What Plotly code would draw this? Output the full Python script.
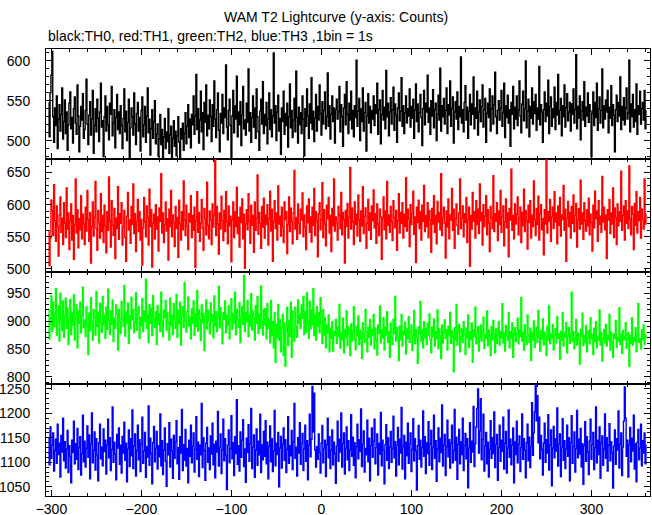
import plotly.graph_objects as go

# ---------------- data (1 s bins, time in seconds) ----------------
T_START = -303

TH0 = [548,505,560,582,612,530,498,541,519,556,490,527,545,512,533,566,502,524,551,509,
536,488,520,547,561,515,529,497,540,555,522,508,570,531,486,518,543,526,559,503,
514,538,577,521,495,532,549,507,527,563,484,519,540,511,552,528,499,536,572,517,
525,480,530,556,512,543,520,501,547,533,568,506,522,539,491,529,558,514,536,509,
544,519,490,528,565,511,537,500,523,552,478,516,541,530,507,560,521,495,534,548,
512,529,487,538,555,505,520,543,498,531,566,510,527,482,515,539,503,524,550,496,
508,521,480,502,533,495,514,476,505,528,490,511,499,540,484,507,518,479,503,525,
493,512,481,506,530,498,477,515,502,522,488,509,535,496,518,545,504,527,491,533,
520,556,508,531,583,514,540,497,526,562,511,535,489,548,523,570,506,532,515,551,
530,499,545,518,575,527,504,539,560,513,486,534,522,558,509,541,529,595,517,501,
538,552,519,478,531,563,510,544,527,581,505,536,520,549,494,532,568,515,526,507,
547,523,590,512,535,498,529,556,517,541,503,565,530,511,488,537,552,521,574,509,
533,519,548,496,527,560,514,539,505,531,610,522,544,500,536,557,512,528,483,541,
524,562,508,534,519,547,492,530,571,516,538,504,526,553,511,587,529,497,542,520,
535,509,556,527,481,540,518,565,531,503,546,522,579,514,537,499,528,558,512,543,
526,570,534,507,549,521,538,561,515,530,585,518,544,502,533,556,524,541,497,539,
552,527,536,568,511,545,530,493,541,558,520,574,533,509,547,526,562,515,538,505,
544,529,601,518,537,553,500,540,524,566,512,535,548,487,531,559,522,543,510,538,
527,556,519,545,534,572,508,539,551,496,533,563,526,542,515,588,530,547,506,536,
554,521,539,567,513,546,532,498,541,560,525,537,579,518,544,509,535,556,522,540,
531,565,517,543,528,552,503,538,571,524,546,511,535,558,529,494,540,563,520,547,
536,582,523,541,508,550,531,564,516,539,547,500,533,557,526,591,512,544,530,553,
521,538,566,509,545,532,575,518,540,555,497,536,549,527,561,514,543,530,605,522,
539,511,548,569,526,542,503,537,558,520,546,533,580,515,541,528,562,507,536,551,
524,543,570,517,539,553,498,534,547,529,565,512,540,556,521,545,586,530,509,538,
550,526,541,563,518,535,572,504,544,529,557,522,539,493,548,533,568,515,542,527,
556,519,538,575,531,510,546,562,525,540,600,516,537,552,505,543,528,566,521,549,
534,558,513,541,527,593,520,545,536,498,539,561,524,547,531,576,509,543,555,518,
540,529,567,514,548,532,583,521,538,553,506,544,530,570,517,541,559,525,536,548,
512,546,533,565,522,539,608,515,543,528,556,501,537,549,526,574,518,542,531,560,
523,545,537,480,534,561,519,548,529,572,513,540,555,522,538,590,516,544,527,551,
536,563,510,542,528,569,519,545,532,486,539,557,524,548,531,580,514,543,526,554,
520,541,566,527,535,601,511,546,530,558,517,539,524,571,508,544,533,562,521,540,
548,526,563,515,538]

TH1 = [560,505,548,607,590,552,631,575,543,598,566,520,584,612,557,579,538,603,571,549,
626,562,587,530,574,601,545,583,515,569,640,556,592,533,578,561,614,547,585,570,
538,596,559,622,577,543,588,509,566,604,551,580,636,563,529,591,572,548,617,558,
583,541,599,567,525,589,560,643,575,534,606,568,552,594,516,579,563,628,546,586,
571,603,537,565,591,549,512,582,619,561,576,540,597,569,632,555,586,527,574,608,
558,589,545,577,506,564,611,573,550,598,580,537,624,566,592,503,571,585,547,600,
562,581,528,595,574,648,556,587,541,569,604,559,578,514,593,566,622,550,584,572,
535,597,563,580,518,607,570,545,589,561,637,576,552,599,567,530,586,573,614,549,
583,560,596,502,575,620,557,588,543,571,608,564,529,594,579,553,635,568,547,590,
576,538,601,565,584,672,552,597,570,523,587,562,613,575,544,591,558,620,573,539,
598,567,582,511,576,604,549,589,566,627,555,580,534,596,572,609,547,585,501,570,
592,561,617,575,540,599,568,583,526,604,560,579,646,554,588,571,532,597,565,610,
548,584,569,600,537,578,621,559,593,512,574,606,563,587,545,629,570,582,551,596,
566,541,604,577,589,524,569,612,558,595,574,539,587,653,562,580,546,601,571,555,
593,576,618,550,584,565,530,598,572,609,557,581,542,596,568,625,552,589,575,519,
586,603,561,577,634,549,592,570,536,599,578,611,556,583,527,594,567,640,559,581,
572,545,597,584,563,619,553,588,577,509,591,566,602,548,580,658,562,595,573,538,
604,569,585,551,615,576,543,590,567,628,555,582,595,532,571,608,560,587,546,598,
575,623,564,586,540,601,570,552,593,581,515,579,612,561,590,547,636,568,584,557,
597,573,544,606,580,564,591,529,575,617,556,588,571,603,548,585,566,642,559,593,
578,535,600,569,586,621,554,581,510,596,572,607,563,589,545,599,574,630,558,583,
566,603,549,591,576,526,594,570,614,557,583,539,605,573,588,561,648,552,580,596,
571,517,590,565,609,547,584,576,625,560,593,532,578,601,568,554,587,640,563,579,
598,550,586,572,611,541,577,596,504,583,562,619,574,589,548,606,569,593,555,632,
575,588,537,600,566,582,614,553,592,571,527,597,580,563,645,558,586,574,603,544,
590,569,622,557,581,598,536,573,609,564,587,519,594,576,655,560,583,547,601,570,
585,612,553,579,596,541,588,567,624,558,591,575,531,599,572,606,548,584,566,637,
577,552,594,569,613,545,586,600,561,578,522,592,570,671,556,589,574,608,543,581,
596,563,620,573,587,539,598,568,611,551,584,577,630,560,593,512,579,605,566,588,
548,597,571,615,558,583,602,534,576,594,562,638,570,587,546,603,575,559,592,567,
610,553,585,572,528,599,564,621,578,590,543,606,569,582,557,644,573,596,561,584,
516,592,576,608,555,587,570,626,549,595,580,538,601,567,589,574,652,560,583,598,
545,606,571,590,563,660,578,553,597,585,530,602,568,620,556,589,575,611,548,593,
577,562,640,570,585]

TH2 = [920,868,905,945,882,934,890,912,958,875,898,927,864,950,903,883,936,871,909,941,
887,923,858,901,939,876,915,893,947,866,907,929,852,918,896,934,879,910,961,888,
902,872,926,895,840,914,883,942,899,866,921,907,875,953,890,916,861,932,897,880,
944,893,911,869,925,885,957,901,876,918,894,938,863,905,887,929,912,848,921,899,
878,935,904,891,964,873,916,896,932,860,909,886,943,902,921,879,898,951,884,913,
926,869,907,892,940,881,918,899,975,887,911,862,930,896,923,874,946,904,889,917,
858,928,894,913,881,952,899,872,920,906,937,884,915,898,866,941,893,910,876,931,
902,887,948,871,919,895,934,857,910,926,889,969,900,880,917,943,891,907,868,922,
896,936,874,913,890,955,882,920,903,865,929,897,914,847,908,938,886,919,901,877,
933,899,912,870,945,892,917,881,906,962,888,924,895,859,915,903,936,879,910,893,
927,868,904,940,885,913,897,952,876,921,902,889,933,861,908,926,894,982,881,915,
899,937,872,910,891,949,884,918,905,866,928,896,944,878,912,887,963,900,875,921,
893,922,868,931,887,904,861,937,874,899,852,915,826,894,871,930,866,903,845,888,
912,838,897,819,883,925,856,901,872,934,835,918,882,864,925,890,871,938,896,912,
887,929,905,944,876,917,880,951,898,869,935,886,920,893,958,874,911,866,926,890,
915,879,942,897,860,921,875,906,852,893,878,911,845,887,869,899,846,881,874,903,
860,889,872,930,851,878,866,905,843,884,871,918,856,890,877,838,895,864,881,926,
867,849,891,874,909,858,883,869,833,897,876,862,921,880,845,888,871,903,857,885,
874,912,850,887,866,839,893,878,927,861,884,870,906,848,889,875,917,862,881,835,
896,870,858,903,877,944,864,888,873,829,891,867,912,855,882,876,898,841,886,869,
908,862,880,893,847,874,919,859,885,871,824,890,877,935,863,884,852,899,870,887,
858,896,875,913,866,843,889,872,904,855,881,868,920,850,886,874,833,893,861,879,
902,869,884,848,891,875,916,860,883,871,809,888,866,930,857,879,894,845,873,886,
862,899,876,840,887,870,911,853,881,867,896,826,884,872,925,859,878,890,846,871,
893,864,880,907,851,876,869,918,856,884,873,838,890,866,901,877,843,886,860,874,
899,857,882,870,931,861,879,846,892,874,866,915,852,881,869,897,835,876,888,863,
878,905,859,884,872,942,864,880,848,893,871,858,911,876,862,887,829,879,866,900,
853,875,889,862,919,871,846,883,868,904,857,880,873,838,891,865,927,859,877,870,
894,848,874,886,861,908,869,877,832,882,866,915,855,879,871,897,843,873,888,860,
876,952,863,881,850,869,903,857,878,866,823,885,872,914,856,874,861,892,845,870,
883,859,906,868,876,840,887,863,899,852,873,866,920,857,879,828,869,885,861,894,
855,874,866,912,848,880,862,835,877,869,901,853,871,864,924,858,876,842,883,866,
872,897,851,868,879,819,874,860,906,857,870,863,888,845,876,931,862,869,850,884,
867,893,858,875,870]

TH3 = [1150,1095,1172,1108,1135,1160,1082,1124,1147,1098,1178,1116,1139,1070,1155,1121,1190,1103,1142,1088,
1127,1165,1079,1134,1112,1058,1145,1120,1184,1097,1138,1106,1169,1085,1130,1152,1074,1118,1196,1101,
1143,1090,1128,1174,1110,1156,1066,1137,1201,1099,1125,1162,1084,1148,1115,1062,1140,1178,1107,1131,
1093,1168,1122,1145,1076,1136,1188,1109,1150,1083,1126,1213,1100,1141,1117,1064,1157,1129,1170,1096,
1135,1078,1153,1119,1182,1104,1139,1060,1127,1166,1091,1148,1113,1207,1087,1133,1158,1072,1124,1176,
1105,1146,1081,1137,1192,1098,1123,1161,1069,1132,1110,1215,1094,1149,1118,1056,1140,1173,1101,1128,
1163,1086,1134,1111,1199,1093,1144,1075,1125,1170,1102,1051,1138,1115,1181,1090,1147,1123,1067,1155,
1108,1142,1185,1097,1130,1065,1152,1119,1208,1083,1136,1104,1167,1092,1128,1058,1145,1112,1176,1099,
1133,1160,1080,1126,1193,1106,1141,1071,1135,1115,1220,1089,1150,1124,1063,1139,1171,1100,1129,1085,
1154,1117,1180,1095,1137,1068,1143,1121,1204,1092,1131,1158,1077,1126,1188,1103,1148,1114,1044,1135,
1166,1099,1128,1195,1107,1140,1073,1152,1118,1228,1096,1134,1082,1162,1110,1145,1187,1091,1127,1059,
1149,1120,1177,1102,1138,1210,1087,1131,1156,1069,1125,1168,1094,1143,1115,1198,1079,1136,1105,1163,
1112,1185,1097,1141,1066,1132,1174,1101,1148,1081,1123,1206,1093,1139,1116,1161,1050,1129,1153,1088,
1137,1170,1104,1146,1079,1126,1193,1098,1134,1113,1165,1085,1142,1220,1108,1131,1072,1150,1119,1181,
1096,1138,1159,1083,1127,1176,1102,1144,1064,1135,1198,1111,1147,1255,1162,1241,1125,1090,1132,1106,
1158,1120,1078,1139,1175,1099,1128,1145,1071,1136,1190,1109,1152,1087,1124,1166,1095,1141,1118,1057,
1133,1184,1102,1147,1121,1201,1090,1138,1160,1076,1129,1172,1105,1144,1083,1126,1197,1112,1151,1094,
1140,1068,1132,1178,1107,1146,1122,1209,1091,1137,1164,1080,1128,1115,1186,1101,1149,1062,1134,1170,
1110,1143,1188,1097,1130,1158,1074,1139,1117,1202,1093,1145,1125,1056,1136,1177,1104,1150,1087,1131,
1163,1100,1128,1194,1109,1142,1072,1135,1171,1095,1147,1119,1212,1086,1132,1155,1066,1141,1113,1180,
1098,1138,1160,1081,1126,1189,1103,1148,1123,1043,1134,1175,1106,1145,1090,1130,1205,1112,1152,1077,
1140,1118,1183,1094,1137,1165,1085,1131,1196,1108,1144,1061,1127,1170,1101,1149,1120,1217,1092,1135,
1157,1073,1132,1186,1111,1146,1088,1139,1176,1099,1124,1208,1104,1151,1065,1136,1167,1097,1142,1116,
1190,1083,1134,1159,1107,1148,1048,1129,1181,1100,1143,1121,1214,1091,1138,1172,1210,1250,1119,1164,
1230,1105,1146,1198,1082,1133,1161,1097,1141,1070,1127,1185,1108,1150,1118,1203,1089,1136,1157,1063,
1131,1176,1102,1145,1122,1192,1086,1139,1163,1078,1128,1207,1110,1147,1095,1135,1170,1058,1142,1116,
1184,1099,1137,1154,1081,1130,1199,1106,1148,1125,1068,1140,1178,1103,1151,1089,1132,1222,1114,1160,
1203,1258,1185,1236,1140,1192,1107,1155,1126,1074,1139,1180,1100,1146,1119,1197,1084,1135,1166,1052,
1129,1173,1109,1148,1123,1211,1092,1137,1158,1071,1131,1189,1104,1144,1087,1127,1176,1112,1150,1062,
1140,1195,1098,1133,1162,1080,1128,1206,1109,1147,1117,1169,1090,1138,1055,1134,1183,1102,1152,1121,
1075,1143,1188,1106,1136,1161,1085,1130,1213,1099,1145,1116,1172,1067,1139,1154,1094,1127,1199,1108,
1150,1082,1135,1179,1103,1142,1120,1047,1133,1166,1096,1148,1125,1205,1088,1137,1160,1073,1131,1184,
1254,1190,1112,1145,1070,1136,1171,1101,1149,1123,1196,1086,1138,1060,1141,1167,1105,1129,1178,1093,
1144,1119,1160,1097,1135]

SERIES = [TH0, TH1, TH2, TH3]
COLORS = ["#000000", "#ff0000", "#00ff00", "#0000ff"]
NAMES = ["TH0", "TH1", "TH2", "TH3"]
Y_RANGES = [[477, 615], [496, 671], [787, 989], [1031, 1260]]
X_RANGE = [-306, 365]
X_TICKS = [-300, -200, -100, 0, 100, 200, 300]

TITLE = "WAM T2 Lightcurve (y-axis: Counts)"
SUBTITLE = "black:TH0, red:TH1, green:TH2, blue:TH3 ,1bin = 1s"

# ---------------- figure ----------------
W, H = 652, 515
bounds = [49, 159, 271.5, 384, 496]
L, R, T, B = 46, 2, bounds[0], H - bounds[-1]
plot_h = H - T - B

def py(p):
    return (H - B - p) / plot_h

FONT = "Liberation Sans, Arial, Helvetica, sans-serif"
FS = 14

fig = go.Figure()
layout = dict(
    width=W, height=H,
    margin=dict(l=L, r=R, t=T, b=B, pad=0, autoexpand=False),
    paper_bgcolor="white", plot_bgcolor="white",
    showlegend=False,
    hovermode=False,
    font=dict(family=FONT, size=FS, color="black"),
)

for i, (ys, col, nm) in enumerate(zip(SERIES, COLORS, NAMES)):
    k = "" if i == 0 else str(i + 1)
    xs = list(range(T_START, T_START + len(ys)))
    fig.add_trace(go.Scatter(
        x=xs, y=ys, mode="lines", name=nm,
        line=dict(color=col, width=1.4, shape="hvh"),
        xaxis="x" + k, yaxis="y" + k, hoverinfo="skip",
    ))
    dom = [py(bounds[i + 1]), py(bounds[i])]
    last = (i == 3)
    layout["xaxis" + k] = dict(
        domain=[0, 1], anchor="y" + k, range=X_RANGE, automargin=False,
        tickmode="array", tickvals=X_TICKS,
        ticks="inside", ticklen=6, tickwidth=1, tickcolor="black",
        minor=dict(dtick=20, tick0=0, ticks="inside", ticklen=3, tickcolor="black", tickwidth=1),
        showline=True, linecolor="black", linewidth=1, mirror="allticks",
        showgrid=False, zeroline=False,
        showticklabels=last,
        tickfont=dict(family=FONT, size=FS, color="black"),
        ticklabelstandoff=0,
    )
    yr = Y_RANGES[i]
    layout["yaxis" + k] = dict(
        domain=dom, anchor="x" + k, range=yr, automargin=False,
        dtick=50, tick0=0,
        ticks="inside", ticklen=6, tickwidth=1, tickcolor="black",
        minor=dict(dtick=10, tick0=0, ticks="inside", ticklen=3, tickcolor="black", tickwidth=1),
        showline=True, linecolor="black", linewidth=1, mirror="allticks",
        showgrid=False, zeroline=False,
        tickfont=dict(family=FONT, size=FS, color="black"),
        ticklabelstandoff=12,
    )

layout["annotations"] = [
    dict(text=TITLE, xref="paper", yref="paper", x=(336 - L) / (W - L - R), y=py(17),
         xanchor="center", yanchor="middle", showarrow=False,
         font=dict(family=FONT, size=FS, color="black")),
    dict(text=SUBTITLE, xref="paper", yref="paper", x=0, y=py(36),
         xanchor="left", yanchor="middle", showarrow=False,
         font=dict(family=FONT, size=FS, color="black")),
]

fig.update_layout(**layout)
# remove the default 8 px page margin so the figure sits at the window's corner
fig.write_html("out.html",
               config={"displayModeBar": False, "staticPlot": True},
               post_script="document.body.style.margin='0';document.body.style.overflow='hidden';")
